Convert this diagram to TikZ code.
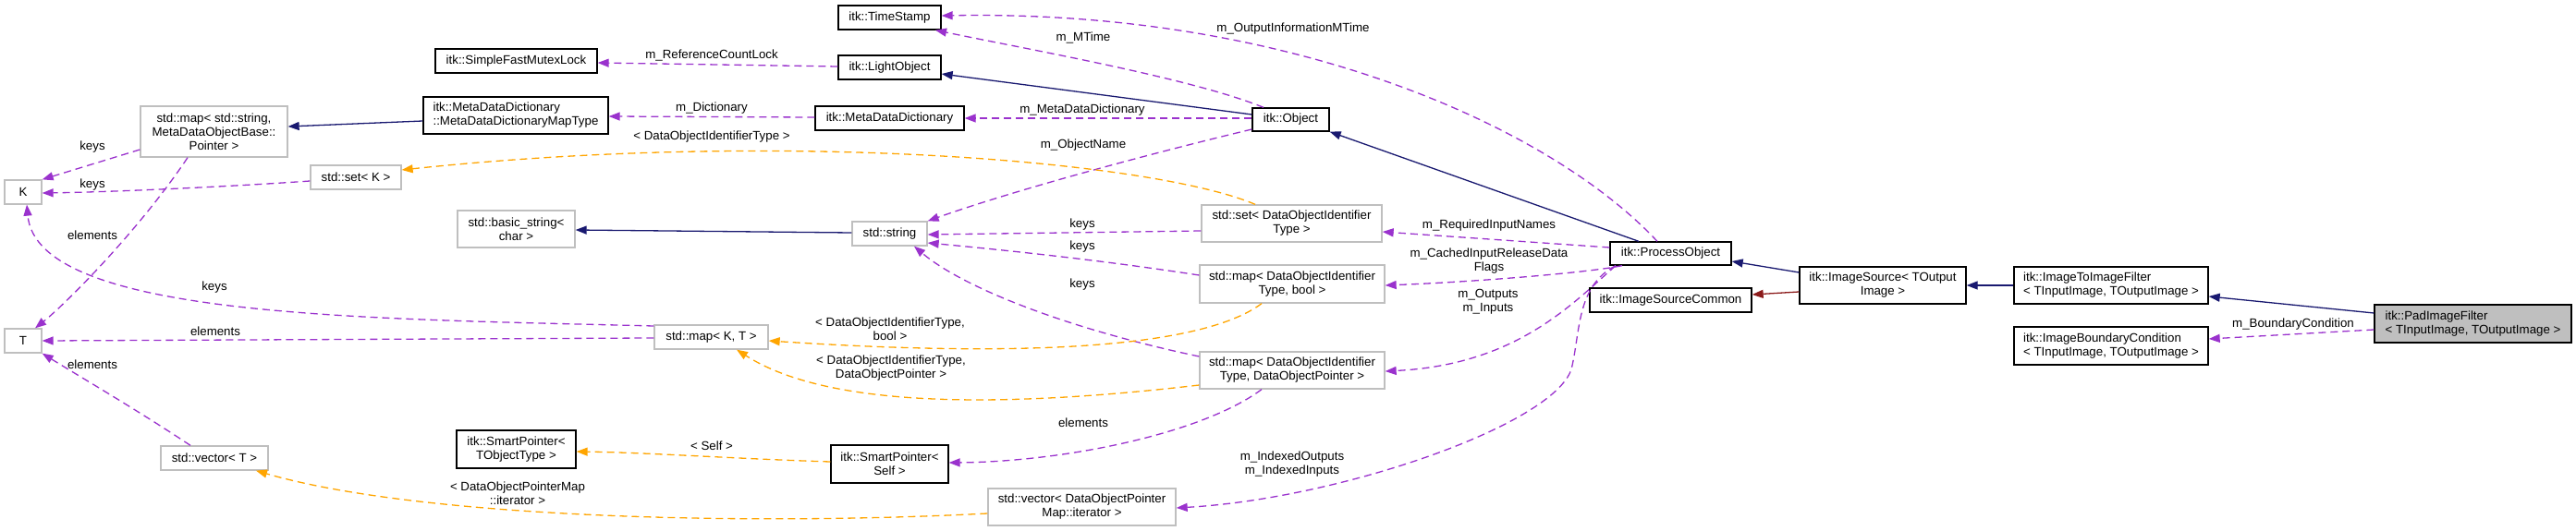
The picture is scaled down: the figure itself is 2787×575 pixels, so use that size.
\documentclass[tikz,border=0pt]{standalone}
\usepackage{fontspec}
\setmainfont{Liberation Sans}
\usetikzlibrary{arrows.meta}
\definecolor{dxnavy}{HTML}{191970}
\definecolor{dxpurple}{HTML}{9A32CD}
\definecolor{dxorange}{HTML}{FFA500}
\definecolor{dxred}{HTML}{8B1A1A}
\definecolor{dxgrey}{HTML}{BFBFBF}
\newcommand\dxfont{\fontsize{13.3}{15}\selectfont}
\newcommand\bx[7]{\node[#6,minimum width={(#4-#2)*1pt},minimum height={(#5-#3)*1pt}] (#1) at ({(#2+#4)/2},{(#3+#5)/2}) {#7};}
\begin{document}
\begin{tikzpicture}[x=1pt,y=-1pt,
  cls/.style={draw=black,line width=1.3pt,fill=white,inner sep=0pt,font=\dxfont,align=center},
  clsl/.style={cls,align=left},
  ext/.style={draw=dxgrey,line width=1.3pt,fill=white,inner sep=0pt,font=\dxfont,align=center},
  lbl/.style={inner sep=0pt,font=\dxfont,align=center},
  tip/.style={-{Triangle[length=12pt,width=9pt]}},
  inh/.style={tip,draw=dxnavy,line width=1.3pt},
  prot/.style={tip,draw=dxred,line width=1.3pt},
  use/.style={tip,draw=dxpurple,line width=1.3pt,dash pattern=on 8pt off 5pt},
  tmpl/.style={tip,draw=dxorange,line width=1.3pt,dash pattern=on 8pt off 5pt}]
\useasboundingbox (0,0) rectangle (2787,575);
% nodes
\bx{ts}{907}{6}{1018}{32}{cls}{itk::TimeStamp}
\bx{lo}{907}{60}{1018}{86}{cls}{itk::LightObject}
\bx{sfml}{471}{53}{646}{79}{cls}{itk::SimpleFastMutexLock}
\bx{mdd}{882}{115}{1043}{141}{cls}{itk::MetaDataDictionary}
\bx{mddmt}{458}{105}{658}{145}{clsl}{itk::MetaDataDictionary\\::MetaDataDictionaryMapType}
\bx{obj}{1355}{117}{1438}{142}{cls}{itk::Object}
\bx{mapss}{152}{115}{311}{170}{ext}{std::map< std::string,\\MetaDataObjectBase::\\Pointer >}
\bx{K}{5}{195}{45}{221}{ext}{K}
\bx{setK}{336}{179}{434}{205}{ext}{std::set< K >}
\bx{bstr}{495}{228}{622}{268}{ext}{std::basic\_string<\\char >}
\bx{str}{922}{240}{1003}{266}{ext}{std::string}
\bx{setdoi}{1300}{222}{1495}{262}{ext}{std::set< DataObjectIdentifier\\Type >}
\bx{po}{1742}{262}{1873}{287}{cls}{itk::ProcessObject}
\bx{mapb}{1298}{287}{1498}{328}{ext}{std::map< DataObjectIdentifier\\Type, bool >}
\bx{isc}{1720}{312}{1895}{338}{cls}{itk::ImageSourceCommon}
\bx{is}{1947}{289}{2127}{329}{cls}{itk::ImageSource< TOutput\\Image >}
\bx{itif}{2179}{289}{2389}{329}{clsl}{itk::ImageToImageFilter\\< TInputImage, TOutputImage >}
\bx{pad}{2569}{330}{2782}{371}{clsl,fill=dxgrey}{itk::PadImageFilter\\< TInputImage, TOutputImage >}
\bx{ibc}{2179}{354}{2389}{395}{clsl}{itk::ImageBoundaryCondition\\< TInputImage, TOutputImage >}
\bx{T}{5}{356}{45}{382}{ext}{T}
\bx{mapKT}{708}{352}{831}{378}{ext}{std::map< K, T >}
\bx{mapdop}{1298}{381}{1498}{421}{ext}{std::map< DataObjectIdentifier\\Type, DataObjectPointer >}
\bx{spt}{494}{466}{623}{507}{cls}{itk::SmartPointer<\\TObjectType >}
\bx{sps}{899}{482}{1026}{523}{cls}{itk::SmartPointer<\\Self >}
\bx{vecT}{174}{483}{290}{509}{ext}{std::vector< T >}
\bx{vecdop}{1069}{529}{1272}{569}{ext}{std::vector< DataObjectPointer\\Map::iterator >}
% edges
\draw[inh] (pad.west |- 0,339) -- (itif.east |- 0,321);
\draw[use] (pad.west |- 0,357) -- (ibc.east |- 0,367);
\node[lbl] (l1) at (2481,351) {m\_BoundaryCondition};
\draw[inh] (itif.west) -- (is.east);
\draw[inh] (is.west |- 0,295) -- (po.east |- 0,283);
\draw[prot] (is.west |- 0,316) -- (isc.east |- 0,319);
\draw[inh] (po.north -| 1773,0) -- (obj.south east);
\draw[inh] (obj.west |- 0,124) -- (lo.east |- 0,80);
\draw[use] (po.north -| 1793,0) .. controls (1680,140) and (1400,10) .. (ts.east |- 0,17);
\node[lbl] (l2) at (1399,31) {m\_OutputInformationMTime};
\draw[use] (obj.north -| 1367,0) .. controls (1290,85) and (1120,55) .. (ts.south -| 1012,0);
\node[lbl] (l3) at (1172,41) {m\_MTime};
\draw[use] (lo.west |- 0,72) -- (sfml.east |- 0,68);
\node[lbl] (l4) at (770,60) {m\_ReferenceCountLock};
\draw[use] (obj.west |- 0,128) -- (mdd.east |- 0,128);
\node[lbl] (l5) at (1171,119) {m\_MetaDataDictionary};
\draw[use] (mdd.west |- 0,127) -- (mddmt.east |- 0,126);
\node[lbl] (l6) at (770,117) {m\_Dictionary};
\draw[inh] (mddmt.west |- 0,131) -- (mapss.east |- 0,137);
\draw[use] (obj.west |- 0,140) .. controls (1250,165) and (1100,205) .. (str.north east);
\node[lbl] (l7) at (1172,157) {m\_ObjectName};
\draw[inh] (str.west |- 0,252) -- (bstr.east |- 0,249);
\draw[use] (po.west |- 0,268) -- (setdoi.east |- 0,251);
\node[lbl] (l8) at (1611,244) {m\_RequiredInputNames};
\draw[use] (po.south -| 1755,0) .. controls (1720,295) and (1600,305) .. (mapb.east |- 0,309);
\node[lbl] (l9) at (1611,283) {m\_CachedInputReleaseData\\Flags};
\draw[use] (po.south -| 1748,0) .. controls (1700,330) and (1640,395) .. (mapdop.east |- 0,402);
\node[lbl] (l10) at (1610,327) {m\_Outputs\\m\_Inputs};
\draw[use] (po.south -| 1748,0) .. controls (1705,310) and (1710,360) .. (1700,400) .. controls (1680,460) and (1450,540) .. (vecdop.east |- 0,550);
\node[lbl] (l11) at (1398,503) {m\_IndexedOutputs\\m\_IndexedInputs};
\draw[tmpl] (setdoi.north -| 1358,0) .. controls (1250,175) and (850,140) .. (setK.east |- 0,184);
\node[lbl] (l12) at (770,148) {< DataObjectIdentifierType >};
\draw[use] (setdoi.west |- 0,250) -- (str.east |- 0,254);
\node[lbl] (l13) at (1171,243) {keys};
\draw[use] (mapb.west |- 0,298) .. controls (1200,283) and (1100,272) .. (str.east |- 0,263);
\node[lbl] (l14) at (1171,267) {keys};
\draw[use] (mapdop.west |- 0,386) .. controls (1150,355) and (1040,310) .. (str.south -| 989,0);
\node[lbl] (l15) at (1171,308) {keys};
\draw[tmpl] (mapb.south -| 1365,0) .. controls (1310,370) and (1150,390) .. (mapKT.east |- 0,369);
\node[lbl] (l16) at (963,356) {< DataObjectIdentifierType,\\bool >};
\draw[tmpl] (mapdop.west |- 0,417) .. controls (1100,440) and (900,445) .. (mapKT.south -| 797,0);
\node[lbl] (l17) at (964,399) {< DataObjectIdentifierType,\\DataObjectPointer >};
\draw[use] (mapdop.south -| 1365,0) .. controls (1300,470) and (1150,500) .. (sps.east |- 0,501);
\node[lbl] (l18) at (1172,458) {elements};
\draw[tmpl] (sps.west |- 0,500) .. controls (800,497) and (700,490) .. (spt.east |- 0,489);
\node[lbl] (l19) at (770,483) {< Self >};
\draw[tmpl] (vecdop.west |- 0,556) .. controls (800,570) and (450,560) .. (vecT.south -| 277,0);
\node[lbl] (l20) at (560,534) {< DataObjectPointerMap\\::iterator >};
\draw[use] (mapss.west |- 0,162) -- (K.north east);
\node[lbl] (l21) at (100,159) {keys};
\draw[use] (mapss.south -| 203,0) .. controls (150,250) and (70,330) .. (T.north -| 38,0);
\node[lbl] (l22) at (100,255) {elements};
\draw[use] (setK.west |- 0,196) .. controls (250,202) and (120,208) .. (K.east |- 0,209);
\node[lbl] (l23) at (100,200) {keys};
\draw[use] (mapKT.west |- 0,353) .. controls (400,345) and (40,345) .. (K.south -| 29,0);
\node[lbl] (l24) at (232,311) {keys};
\draw[use] (mapKT.west |- 0,366) -- (T.east |- 0,369);
\node[lbl] (l25) at (233,359) {elements};
\draw[use] (vecT.north -| 206,0) .. controls (150,445) and (90,410) .. (T.south east);
\node[lbl] (l26) at (100,395) {elements};
\end{tikzpicture}
\end{document}
